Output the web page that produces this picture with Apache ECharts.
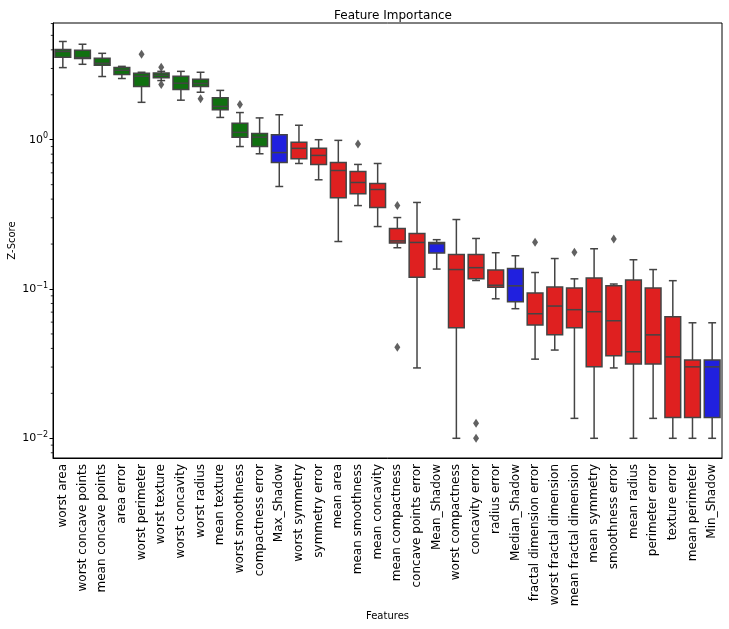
<!DOCTYPE html>
<html>
<head>
    <meta charset="UTF-8">
    <title>Feature Importance</title>
    <script type="text/javascript" src="https://cdn.jsdelivr.net/npm/echarts@6/dist/echarts.min.js"></script>
    <style type="text/css">
        body { margin: 0; background: #fff; }
        #chart { width: 729px; height: 629px; }
    </style>
</head>
<body>
<div id="chart"></div>
<script type="text/javascript">
    var categories = ['worst area', 'worst concave points', 'mean concave points', 'area error',
        'worst perimeter', 'worst texture', 'worst concavity', 'worst radius', 'mean texture',
        'worst smoothness', 'compactness error', 'Max_Shadow', 'worst symmetry', 'symmetry error',
        'mean area', 'mean smoothness', 'mean concavity', 'mean compactness', 'concave points error',
        'Mean_Shadow', 'worst compactness', 'concavity error', 'radius error', 'Median_Shadow',
        'fractal dimension error', 'worst fractal dimension', 'mean fractal dimension', 'mean symmetry',
        'smoothness error', 'mean radius', 'perimeter error', 'texture error', 'mean perimeter', 'Min_Shadow'];
    // g = confirmed, b = shadow, r = rejected
    var groups = ['g', 'g', 'g', 'g', 'g', 'g', 'g', 'g', 'g', 'g', 'g', 'b', 'r', 'r', 'r', 'r', 'r',
        'r', 'r', 'b', 'r', 'r', 'r', 'b', 'r', 'r', 'r', 'r', 'r', 'r', 'r', 'r', 'r', 'b'];
    var whiskerLow = [3.04, 3.20, 2.65, 2.57, 1.78, 2.49, 1.84, 2.08, 1.41, 0.90, 0.805, 0.486, 0.693, 0.539,
        0.208, 0.362, 0.262, 0.189, 0.0296, 0.136, 0.0100, 0.114, 0.086, 0.0738, 0.0339, 0.0390, 0.0136,
        0.0100, 0.0296, 0.0100, 0.0136, 0.0100, 0.0100, 0.0100];
    var q1 = [3.57, 3.50, 3.15, 2.73, 2.27, 2.60, 2.17, 2.27, 1.59, 1.04, 0.90, 0.705, 0.745, 0.683,
        0.408, 0.434, 0.351, 0.203, 0.120, 0.174, 0.055, 0.117, 0.1026, 0.082, 0.0574, 0.0493, 0.0550,
        0.0301, 0.0357, 0.0315, 0.0315, 0.0138, 0.0138, 0.0138];
    var median = [3.90, 3.55, 3.25, 2.92, 2.66, 2.70, 2.39, 2.38, 1.67, 1.12, 1.04, 0.82, 0.875, 0.785,
        0.622, 0.517, 0.464, 0.210, 0.205, 0.201, 0.135, 0.139, 0.106, 0.105, 0.0683, 0.0769, 0.0727,
        0.0705, 0.0613, 0.0380, 0.0493, 0.0351, 0.0301, 0.0301];
    var q3 = [4.02, 3.97, 3.51, 3.04, 2.79, 2.80, 2.66, 2.54, 1.91, 1.29, 1.10, 1.08, 0.96, 0.875,
        0.705, 0.613, 0.509, 0.254, 0.235, 0.205, 0.170, 0.170, 0.134, 0.137, 0.094, 0.103, 0.1016,
        0.1186, 0.105, 0.115, 0.1016, 0.0652, 0.0334, 0.0334];
    var whiskerHigh = [4.55, 4.36, 3.79, 3.10, 2.83, 2.87, 2.87, 2.83, 2.14, 1.52, 1.40, 1.47, 1.25, 1.00,
        0.99, 0.683, 0.693, 0.301, 0.380, 0.214, 0.292, 0.218, 0.175, 0.167, 0.129, 0.160, 0.117,
        0.186, 0.108, 0.157, 0.135, 0.1137, 0.0594, 0.0594];
    var outliers = [[4, 3.74], [5, 3.06], [5, 2.34], [7, 1.88], [9, 1.72], [15, 0.935], [17, 0.362],
        [17, 0.0408], [21, 0.0126], [21, 0.0100], [24, 0.206], [26, 0.176], [28, 0.216]];
    var minorTickValues = [0.008, 0.009, 0.02, 0.03, 0.04, 0.05, 0.06, 0.07, 0.08, 0.09,
        0.2, 0.3, 0.4, 0.5, 0.6, 0.7, 0.8, 0.9, 2, 3, 4, 5, 6];

    var colorMap = {g: '#107010', r: '#df2020', b: '#2020df'};
    var edge = '#444444';
    var font = 'DejaVu Sans';

    var boxData = [];
    for (var i = 0; i < categories.length; i++) {
        boxData.push([i, whiskerLow[i], q1[i], median[i], q3[i], whiskerHigh[i], groups[i]]);
    }

    function renderBox(params, api) {
        var idx = api.value(0);
        var bw = api.size([1, 0])[0] * 0.8;
        var x = api.coord([idx, 1])[0];
        var yLow = api.coord([idx, api.value(1)])[1];
        var yQ1 = api.coord([idx, api.value(2)])[1];
        var yMed = api.coord([idx, api.value(3)])[1];
        var yQ3 = api.coord([idx, api.value(4)])[1];
        var yHigh = api.coord([idx, api.value(5)])[1];
        var fill = colorMap[boxData[params.dataIndex][6]];
        var ls = {stroke: edge, lineWidth: 1.5};
        return {
            type: 'group',
            children: [
                {type: 'line', shape: {x1: x, y1: yQ3, x2: x, y2: yHigh}, style: ls},
                {type: 'line', shape: {x1: x, y1: yQ1, x2: x, y2: yLow}, style: ls},
                {type: 'line', shape: {x1: x - bw / 4, y1: yHigh, x2: x + bw / 4, y2: yHigh}, style: ls},
                {type: 'line', shape: {x1: x - bw / 4, y1: yLow, x2: x + bw / 4, y2: yLow}, style: ls},
                {type: 'rect', shape: {x: x - bw / 2, y: yQ3, width: bw, height: yQ1 - yQ3},
                    style: {fill: fill, stroke: edge, lineWidth: 1.5}},
                {type: 'line', shape: {x1: x - bw / 2, y1: yMed, x2: x + bw / 2, y2: yMed}, style: ls}
            ]
        };
    }

    // small ticks between the powers of ten on the log axis
    function renderMinorTick(params, api) {
        var bandW = api.size([1, 0])[0];
        var x0 = api.coord([0, 1])[0] - bandW / 2;
        var y = api.coord([0, minorTickValues[params.dataIndex]])[1];
        return {type: 'line', shape: {x1: x0 - 2.2, y1: y, x2: x0, y2: y},
            style: {stroke: '#000', lineWidth: 0.8}};
    }

    var chart = echarts.init(document.getElementById('chart'));
    chart.setOption({
        animation: false,
        backgroundColor: '#fff',
        title: {
            text: 'Feature Importance',
            left: 388,
            textAlign: 'center',
            top: 5,
            textStyle: {fontFamily: font, fontSize: 12, fontWeight: 'normal', color: '#000'}
        },
        grid: {
            left: 53, right: 7, top: 23, bottom: 171,
            containLabel: false,
            outerBoundsMode: 'none',
            show: true, borderColor: '#000', borderWidth: 1, backgroundColor: 'transparent'
        },
        xAxis: {
            type: 'category',
            data: categories,
            name: 'Features',
            nameLocation: 'middle',
            nameGap: 153,
            nameMoveOverlap: false,
            nameTextStyle: {fontFamily: font, fontSize: 10, color: '#000'},
            axisLine: {lineStyle: {color: '#000', width: 1}},
            axisTick: {alignWithLabel: true, length: 3.5, lineStyle: {color: '#000'}},
            axisLabel: {rotate: 90, interval: 0, margin: 6, fontFamily: font, fontSize: 12, color: '#000'},
            splitLine: {show: false}
        },
        yAxis: {
            type: 'log',
            logBase: 10,
            min: 0.00738,
            max: 6.05,
            name: 'Z-Score',
            nameLocation: 'middle',
            nameGap: 36,
            nameMoveOverlap: false,
            nameRotate: 90,
            nameTextStyle: {fontFamily: font, fontSize: 10, color: '#000'},
            axisLine: {show: true, lineStyle: {color: '#000', width: 1}},
            axisTick: {show: true, length: 3.5, lineStyle: {color: '#000'}},
            splitLine: {show: false},
            axisLabel: {
                showMinLabel: false,
                showMaxLabel: false,
                margin: 5,
                fontFamily: font,
                fontSize: 11,
                color: '#000',
                formatter: function (v) {
                    var lg = Math.log(v) / Math.LN10;
                    var e = Math.round(lg);
                    if (Math.abs(lg - e) > 1e-6) return '';
                    return '10{s|' + String(e).replace('-', '\u2212') + '}';
                },
                rich: {
                    s: {fontFamily: font, fontSize: 8, color: '#000', padding: [0, 0, 7, 0]}
                }
            }
        },
        series: [
            {
                type: 'custom',
                renderItem: renderBox,
                data: boxData,
                encode: {x: 0, y: [1, 2, 3, 4, 5]},
                z: 2
            },
            {
                type: 'scatter',
                data: outliers,
                symbol: 'diamond',
                symbolSize: [6, 9],
                itemStyle: {color: '#3a3a3a'},
                z: 3
            },
            {
                type: 'custom',
                renderItem: renderMinorTick,
                data: minorTickValues.map(function (v, k) { return [k]; }),
                clip: false,
                silent: true,
                z: 5
            }
        ]
    });
</script>
</body>
</html>
